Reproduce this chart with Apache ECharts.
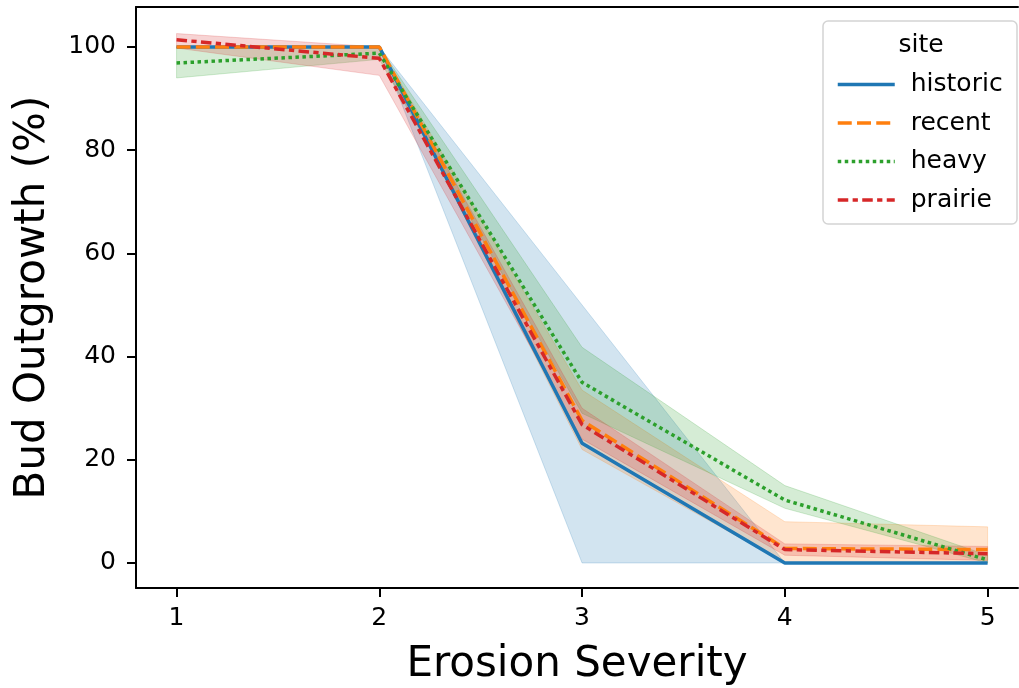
<!DOCTYPE html>
<html>
<head>
<meta charset="utf-8">
<script src="https://cdn.jsdelivr.net/npm/echarts@6/dist/echarts.min.js"></script>
<style>
  html, body { margin: 0; padding: 0; background: #fff; }
  #chart { width: 1019px; height: 688px; }
</style>
</head>
<body>
<div id="chart"></div>
<script>
// ---- data ----
const severity = [1, 2, 3, 4, 5];
const xTicks = [1, 2, 3, 4, 5];
const yTicks = [0, 20, 40, 60, 80, 100];

const siteNames = ['historic', 'recent', 'heavy', 'prairie'];

const historicMean = [100, 100, 23.2, 0, 0];
const historicLow  = [100, 100, 0, 0, 0];
const historicHigh = [100, 100, 50, 0, 0];

const recentMean = [100, 100, 27.6, 2.8, 2.6];
const recentLow  = [100, 100, 22, 0, 0];
const recentHigh = [100, 100, 33.5, 8, 7];

const heavyMean = [96.9, 98.8, 35, 12.2, 0.6];
const heavyLow  = [94, 97.6, 29, 10.6, 0];
const heavyHigh = [100, 100, 41.8, 15, 1.5];

const prairieMean = [101.4, 97.8, 26.8, 2.6, 1.8];
const prairieLow  = [99.8, 94.5, 24, 1.5, 0.5];
const prairieHigh = [102.6, 100, 30, 3.7, 3.2];

// ---- styling ----
const colors = ['#1f77b4', '#ff7f0e', '#2ca02c', '#d62728'];
const LW = 3.5;
const dashes = ['solid', [4 * LW, 1.5 * LW], [1 * LW, 1 * LW], [3 * LW, 1.25 * LW, 1.5 * LW, 1.25 * LW]];
const FONT = 'DejaVu Sans';

const means = [historicMean, recentMean, heavyMean, prairieMean];
const lows = [historicLow, recentLow, heavyLow, prairieLow];
const highs = [historicHigh, recentHigh, heavyHigh, prairieHigh];

function rgba(hex, a) {
  const n = parseInt(hex.slice(1), 16);
  return 'rgba(' + ((n >> 16) & 255) + ',' + ((n >> 8) & 255) + ',' + (n & 255) + ',' + a + ')';
}

const series = [];
// bands (below all lines)
siteNames.forEach((name, k) => {
  const lo = lows[k], hi = highs[k];
  series.push({
    name: name + ' CI',
    type: 'custom',
    coordinateSystem: 'cartesian2d',
    xAxisIndex: 0,
    yAxisIndex: 0,
    silent: true,
    z: 1,
    data: severity.map((x, i) => [x, lo[i], hi[i]]),
    encode: { x: 0, y: [1, 2] },
    renderItem: function (params, api) {
      if (params.dataIndex !== 0) return null;
      const pts = [];
      for (let i = 0; i < severity.length; i++) pts.push(api.coord([severity[i], hi[i]]));
      for (let i = severity.length - 1; i >= 0; i--) pts.push(api.coord([severity[i], lo[i]]));
      return {
        type: 'polygon',
        shape: { points: pts },
        style: { fill: rgba(colors[k], 0.2), stroke: rgba(colors[k], 0.2), lineWidth: 1 }
      };
    }
  });
});
// lines
siteNames.forEach((name, k) => {
  series.push({
    name: name,
    type: 'line',
    xAxisIndex: 0,
    yAxisIndex: 0,
    z: 2 + k * 0.01,
    symbol: 'none',
    data: severity.map((x, i) => [x, means[k][i]]),
    lineStyle: { color: colors[k], width: LW, type: dashes[k], cap: 'butt' },
    itemStyle: { color: colors[k] }
  });
});

const chart = echarts.init(document.getElementById('chart'), null, { renderer: 'canvas' });
chart.setOption({
  animation: false,
  backgroundColor: '#fff',
  textStyle: { fontFamily: FONT },
  grid: {
    left: 136, top: 7, right: 1, height: 581,
    show: false,
    containLabel: false,
    outerBoundsMode: 'none'
  },
  xAxis: [{
    type: 'value',
    min: 0.8, max: 5.15,
    name: 'Erosion Severity',
    nameLocation: 'middle',
    nameGap: 56,
    nameTextStyle: { fontSize: 42, color: '#000', fontFamily: FONT },
    axisLine: { show: true, onZero: false, lineStyle: { color: '#000', width: 2 } },
    axisTick: { show: true, inside: false, length: 9, lineStyle: { color: '#000', width: 2 }, customValues: xTicks },
    axisLabel: { fontSize: 25, color: '#000', margin: 18, fontFamily: FONT, customValues: xTicks },
    splitLine: { show: false }
  }, {
    type: 'value',
    position: 'top',
    min: 0.8, max: 5.15,
    axisLine: { show: true, onZero: false, lineStyle: { color: '#000', width: 2 } },
    axisTick: { show: false },
    axisLabel: { show: false },
    splitLine: { show: false }
  }],
  yAxis: {
    type: 'value',
    min: -4.85, max: 107.75,
    name: 'Bud Outgrowth (%)',
    nameLocation: 'middle',
    nameRotate: 90,
    nameGap: 82,
    nameTextStyle: { fontSize: 42, color: '#000', fontFamily: FONT },
    axisLine: { show: true, onZero: false, lineStyle: { color: '#000', width: 2 } },
    axisTick: { show: true, inside: false, length: 9, lineStyle: { color: '#000', width: 2 }, customValues: yTicks },
    axisLabel: { fontSize: 25, color: '#000', margin: 20, fontFamily: FONT, customValues: yTicks },
    splitLine: { show: false }
  },
  legend: {
    data: siteNames,
    orient: 'vertical',
    left: 831,
    top: 67,
    itemWidth: 57,
    itemHeight: 20,
    itemGap: 13.5,
    selectedMode: false,
    itemStyle: { opacity: 0 },
    lineStyle: { width: LW },
    textStyle: { fontSize: 25, color: '#000', fontFamily: FONT, lineHeight: 20, padding: [0, 0, 0, 11] },
    z: 10
  },
  graphic: [
    {
      type: 'rect',
      z: 5,
      shape: { x: 823, y: 21, width: 194, height: 203, r: 5 },
      style: { fill: 'rgba(255,255,255,0.8)', stroke: '#d4d4d4', lineWidth: 1.5 }
    },
    {
      type: 'text',
      z: 6,
      x: 921, y: 45,
      style: { text: 'site', fontSize: 25, fontFamily: FONT, fill: '#000', align: 'center', verticalAlign: 'middle' }
    }
  ],
  series: series
});
</script>
</body>
</html>
